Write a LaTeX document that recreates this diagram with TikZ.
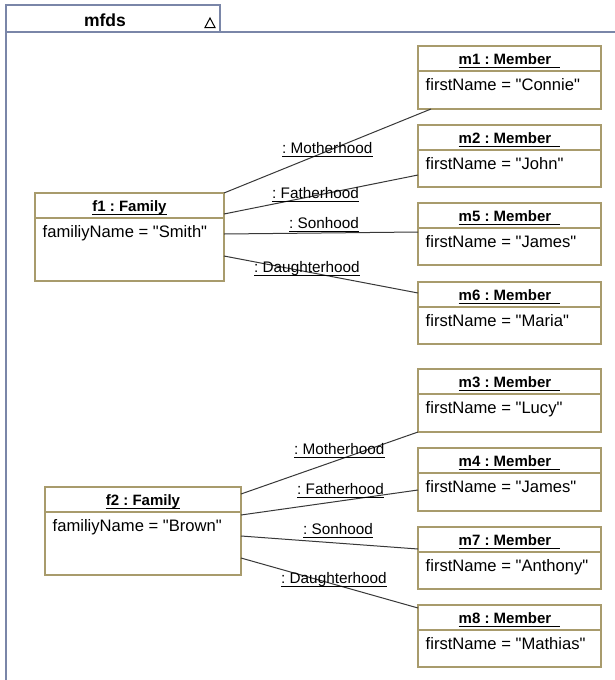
\documentclass[tikz,border=0pt]{standalone}
\usepackage{fontspec}
\setmainfont[Ligatures=TeXOff]{Liberation Sans}
\usetikzlibrary{calc}
\definecolor{boxc}{HTML}{A89B6C}
\definecolor{framec}{HTML}{7A86A8}
\definecolor{linec}{HTML}{383838}
\frenchspacing
\tikzset{
  objbox/.style={draw=boxc, line width=1.3pt, fill=white, inner sep=0pt, outer sep=0pt, rectangle},
  boxline/.style={draw=boxc, line width=1.3pt},
  titletext/.style={inner xsep=0pt, inner ysep=1pt, anchor=base, font=\fontsize{15}{18}\selectfont\bfseries},
  attrtext/.style={inner xsep=0pt, inner ysep=1pt, anchor=base west, font=\fontsize{16.6}{20}\selectfont},
  lbltext/.style={inner xsep=0pt, inner ysep=1pt, anchor=base west, font=\fontsize{15.3}{18}\selectfont},
  ul/.style={draw=black, line width=1pt},
  conn/.style={draw=linec, line width=1pt},
  framel/.style={draw=framec, line width=1.3pt}
}
\newcommand\umlobj[7]{%
  \node[objbox, minimum width=#4pt, minimum height=#5pt, anchor=north west] (#1) at (#2,#3) {};
  \draw[boxline] ([yshift=-25pt]#1.north west) -- ([yshift=-25pt]#1.north east);
  \node[titletext] (#1-t) at ([yshift=-18.5pt]#1.north) {#6};
  \draw[ul] ([yshift=-2.5pt]#1-t.base west) -- ([yshift=-2.5pt]#1-t.base east);
  \node[attrtext] (#1-a) at ([xshift=7.5pt,yshift=-44.5pt]#1.north west) {#7};
}
\newcommand\ulabel[4]{%
  \node[lbltext] (#1) at (#2,#3) {#4};
  \draw[ul] ([yshift=-3pt]#1.base west) -- ([yshift=-3pt]#1.base east);
}
\begin{document}
\begin{tikzpicture}[x=1pt,y=-1pt]
\useasboundingbox[fill=white] (0,0) rectangle (615,680);
% frame
\coordinate (fr-bl) at (6,680);
\coordinate (fr-tl) at (6,32);
\coordinate (fr-tr) at (615,32);
\node[inner sep=0pt, outer sep=0pt, minimum width=214pt, minimum height=27pt, anchor=south west] (tab) at (6,32) {};
\draw[framel] (fr-bl) -- (tab.north west) -- (tab.north east) -- (tab.south east);
\draw[framel] (fr-tl) -- (fr-tr);
\node[anchor=base, inner sep=0pt, font=\fontsize{17.5}{20}\selectfont\bfseries] (tabt) at (105,26.5) {mfds};
\coordinate (tri) at (210,23);
\draw[black, line width=1pt, line join=miter] ([xshift=-5pt,yshift=-4.5pt]tri) -- ([yshift=5pt]tri) -- ([xshift=5pt,yshift=-4.5pt]tri) -- cycle;

% objects
\umlobj{f1}{35}{193}{189}{88}{f1 : Family}{familiyName = "Smith"}
\umlobj{f2}{45}{487}{196}{88}{f2 : Family}{familiyName = "Brown"}
\umlobj{m1}{418}{46}{183}{63}{m1 : Member\kern9pt}{firstName = "Connie"}
\umlobj{m2}{418}{125}{183}{62}{m2 : Member\kern9pt}{firstName = "John"}
\umlobj{m5}{418}{203}{183}{62}{m5 : Member\kern9pt}{firstName = "James"}
\umlobj{m6}{418}{282}{183}{62}{m6 : Member\kern9pt}{firstName = "Maria"}
\umlobj{m3}{418}{369}{183}{63}{m3 : Member\kern9pt}{firstName = "Lucy"}
\umlobj{m4}{418}{448}{183}{63}{m4 : Member\kern9pt}{firstName = "James"}
\umlobj{m7}{418}{527}{183}{62}{m7 : Member\kern9pt}{firstName = "Anthony"}
\umlobj{m8}{418}{605}{183}{62}{m8 : Member\kern9pt}{firstName = "Mathias"}

% connectors
\draw[conn] (f1.north east) -- ([xshift=13pt]m1.south west);
\draw[conn] ([yshift=-21pt]f1.north east) -- ([yshift=-50pt]m2.north west);
\draw[conn] ([yshift=-41pt]f1.north east) -- ([yshift=-29pt]m5.north west);
\draw[conn] ([yshift=-63pt]f1.north east) -- ([yshift=-11pt]m6.north west);
\draw[conn] ([yshift=-7pt]f2.north east) -- (m3.south west);
\draw[conn] ([yshift=-28pt]f2.north east) -- ([yshift=-42pt]m4.north west);
\draw[conn] ([yshift=-49pt]f2.north east) -- ([yshift=-22pt]m7.north west);
\draw[conn] ([yshift=-71pt]f2.north east) -- ([yshift=-3pt]m8.north west);

% labels
\ulabel{l1}{282}{153}{: Motherhood}
\ulabel{l2}{272}{198.5}{: Fatherhood}
\ulabel{l3}{289}{228.5}{: Sonhood}
\ulabel{l4}{254}{272.5}{: Daughterhood}
\ulabel{l5}{294}{454}{: Motherhood}
\ulabel{l6}{297}{494}{: Fatherhood}
\ulabel{l7}{303}{534}{: Sonhood}
\ulabel{l8}{281}{583}{: Daughterhood}
\end{tikzpicture}
\end{document}
